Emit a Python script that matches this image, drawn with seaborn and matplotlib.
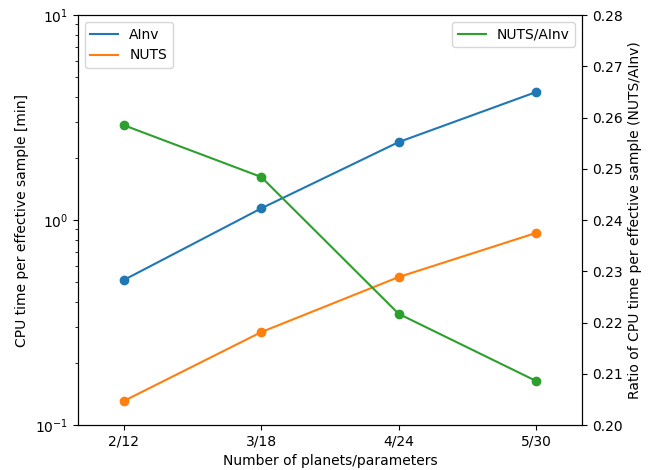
import matplotlib
matplotlib.use("Agg")
import matplotlib.pyplot as plt
import seaborn as sns
import pandas as pd

categories = ["2/12", "3/18", "4/24", "5/30"]
ainv = [0.51, 1.14, 2.40, 4.21]
nuts = [0.131, 0.284, 0.527, 0.865]
ratio = [0.2585, 0.2484, 0.2217, 0.2086]

xpos = list(range(len(categories)))
df = pd.DataFrame({"x": xpos, "AInv": ainv, "NUTS": nuts, "ratio": ratio})

fig = plt.figure(figsize=(6.54, 4.70), dpi=100)
ax = fig.add_axes([0.119, 0.0957, 0.771, 0.8723])
c = sns.color_palette("tab10")

sns.lineplot(data=df, x="x", y="AInv", ax=ax, color=c[0], label="AInv")
ax.plot(df["x"], df["AInv"], "o", color=c[0])
sns.lineplot(data=df, x="x", y="NUTS", ax=ax, color=c[1], label="NUTS")
ax.plot(df["x"], df["NUTS"], "o", color=c[1])
ax.set_yscale("log")
ax.set_ylim(0.1, 10)
ax.set_xlim(-0.335, 3.335)
ax.set_xticks(xpos)
ax.set_xticklabels(categories)
ax.set_xlabel("Number of planets/parameters")
ax.set_ylabel("CPU time per effective sample [min]")
ax.legend(loc="upper left")

ax2 = ax.twinx()
sns.lineplot(data=df, x="x", y="ratio", ax=ax2, color=c[2], label="NUTS/AInv")
ax2.plot(df["x"], df["ratio"], "o", color=c[2])
ax2.set_ylim(0.20, 0.28)
ax2.set_ylabel("Ratio of CPU time per effective sample (NUTS/AInv)")
ax2.legend(loc="upper right")
ax2.set_xlim(-0.335, 3.335)

fig.savefig("out.png", dpi=100)
